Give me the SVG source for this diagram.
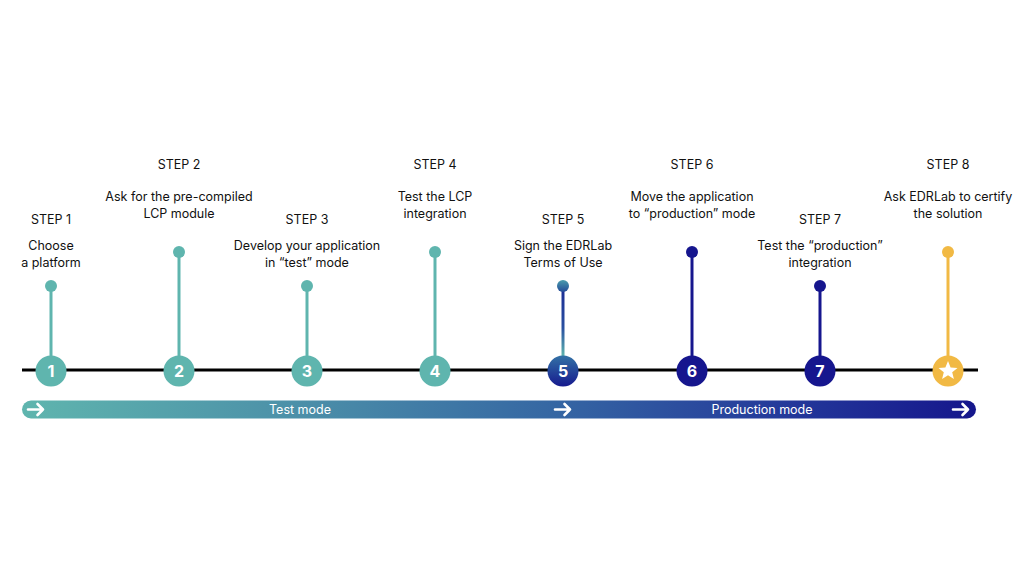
<svg xmlns="http://www.w3.org/2000/svg" width="1024" height="576" viewBox="0 0 1024 576">
<defs>
<style>
.step{font-family:Inter,"Liberation Sans",sans-serif;font-size:12.5px;fill:#111;text-anchor:middle}
.desc{font-family:Inter,"Liberation Sans",sans-serif;font-size:12.5px;fill:#111;text-anchor:middle}
.num{font-family:Inter,"Liberation Sans",sans-serif;font-size:16px;font-weight:700;fill:#fff;text-anchor:middle}
.mode{font-family:Inter,"Liberation Sans",sans-serif;font-size:12.5px;fill:#fff;text-anchor:middle}
.teal{fill:#5fb5ae}
.tealS{stroke:#5fb5ae;stroke-width:3}
.navy{fill:#16168e}
.navyS{stroke:#16168e;stroke-width:3}
.gold{fill:#f1b944}
.goldS{stroke:#f1b944;stroke-width:3}
.arr{fill:none;stroke:#fff;stroke-width:2.6;stroke-linecap:round;stroke-linejoin:round}
</style>
<linearGradient id="bar" x1="22" y1="0" x2="976" y2="0" gradientUnits="userSpaceOnUse">
<stop offset="0" stop-color="#5fb5ae"/>
<stop offset="0.3" stop-color="#4b8ea8"/>
<stop offset="0.56" stop-color="#3566a3"/>
<stop offset="0.8" stop-color="#24399a"/>
<stop offset="1" stop-color="#15168c"/>
</linearGradient>
<linearGradient id="c5" x1="0" y1="0" x2="0" y2="1">
<stop offset="0" stop-color="#3372a6"/>
<stop offset="1" stop-color="#161a8e"/>
</linearGradient>
<linearGradient id="s5" x1="0" y1="286" x2="0" y2="356" gradientUnits="userSpaceOnUse">
<stop offset="0" stop-color="#1a2a94"/>
<stop offset="0.6" stop-color="#2a50a0"/>
<stop offset="1" stop-color="#5fb5ae"/>
</linearGradient>
<linearGradient id="d5" x1="0" y1="0" x2="0" y2="1">
<stop offset="0" stop-color="#4a9cad"/>
<stop offset="1" stop-color="#234a98"/>
</linearGradient>
</defs>
<rect width="1024" height="576" fill="#fff"/>
<g id="connectors">
<line x1="22" y1="370" x2="978" y2="370" stroke="#000" stroke-width="3"/>
<line class="tealS" x1="51" y1="286" x2="51" y2="370"/>
<line class="tealS" x1="179" y1="252" x2="179" y2="370"/>
<line class="tealS" x1="307" y1="286" x2="307" y2="370"/>
<line class="tealS" x1="435" y1="252" x2="435" y2="370"/>
<line stroke="url(#s5)" stroke-width="3" x1="563" y1="286" x2="563" y2="370"/>
<line class="navyS" x1="692" y1="252" x2="692" y2="370"/>
<line class="navyS" x1="820" y1="286" x2="820" y2="370"/>
<line class="goldS" x1="948" y1="252" x2="948" y2="370"/>
</g>
<g id="step1">
<text class="step" x="51" y="224">STEP 1</text>
<text class="desc" x="51" y="250">Choose</text>
<text class="desc" x="51" y="267">a platform</text>
<circle class="teal" cx="51" cy="286" r="6"/>
<circle class="teal" cx="51" cy="371" r="15.5"/>
<text class="num" x="51" y="377">1</text>
</g>
<g id="step2">
<text class="step" x="179" y="169">STEP 2</text>
<text class="desc" x="179" y="201">Ask for the pre-compiled</text>
<text class="desc" x="179" y="218">LCP module</text>
<circle class="teal" cx="179" cy="252" r="6"/>
<circle class="teal" cx="179" cy="371" r="15.5"/>
<text class="num" x="179" y="377">2</text>
</g>
<g id="step3">
<text class="step" x="307" y="224">STEP 3</text>
<text class="desc" x="307" y="250">Develop your application</text>
<text class="desc" x="307" y="267">in “test” mode</text>
<circle class="teal" cx="307" cy="286" r="6"/>
<circle class="teal" cx="307" cy="371" r="15.5"/>
<text class="num" x="307" y="377">3</text>
</g>
<g id="step4">
<text class="step" x="435" y="169">STEP 4</text>
<text class="desc" x="435" y="201">Test the LCP</text>
<text class="desc" x="435" y="218">integration</text>
<circle class="teal" cx="435" cy="252" r="6"/>
<circle class="teal" cx="435" cy="371" r="15.5"/>
<text class="num" x="435" y="377">4</text>
</g>
<g id="step5">
<text class="step" x="563" y="224">STEP 5</text>
<text class="desc" x="563" y="250">Sign the EDRLab</text>
<text class="desc" x="563" y="267">Terms of Use</text>
<circle fill="url(#d5)" cx="563" cy="286" r="6"/>
<circle fill="url(#c5)" cx="563" cy="371" r="15.5"/>
<text class="num" x="563" y="377">5</text>
</g>
<g id="step6">
<text class="step" x="692" y="169">STEP 6</text>
<text class="desc" x="692" y="201">Move the application</text>
<text class="desc" x="692" y="218">to “production” mode</text>
<circle class="navy" cx="692" cy="252" r="6"/>
<circle class="navy" cx="692" cy="371" r="15.5"/>
<text class="num" x="692" y="377">6</text>
</g>
<g id="step7">
<text class="step" x="820" y="224">STEP 7</text>
<text class="desc" x="820" y="250">Test the “production”</text>
<text class="desc" x="820" y="267">integration</text>
<circle class="navy" cx="820" cy="286" r="6"/>
<circle class="navy" cx="820" cy="371" r="15.5"/>
<text class="num" x="820" y="377">7</text>
</g>
<g id="step8">
<text class="step" x="948" y="169">STEP 8</text>
<text class="desc" x="948" y="201">Ask EDRLab to certify</text>
<text class="desc" x="948" y="218">the solution</text>
<circle class="gold" cx="948" cy="252" r="6"/>
<circle class="gold" cx="948" cy="371" r="15.5"/>
<polygon fill="#fff" points="948,361 950.6,367.4 957.5,367.9 952.2,372.3 953.9,379 948,375.3 942.1,379 943.8,372.3 938.5,367.9 945.4,367.4"/>
</g>
<g id="modebar">
<rect x="22" y="400.5" width="954" height="18" rx="9" fill="url(#bar)"/>
<path class="arr" d="M28 409.5 H43 M37.5 404 L43 409.5 L37.5 415"/>
<path class="arr" d="M555 409.5 H570 M564.5 404 L570 409.5 L564.5 415"/>
<path class="arr" d="M953 409.5 H968 M962.5 404 L968 409.5 L962.5 415"/>
<text class="mode" x="300" y="414">Test mode</text>
<text class="mode" x="762" y="414">Production mode</text>
</g>
</svg>
